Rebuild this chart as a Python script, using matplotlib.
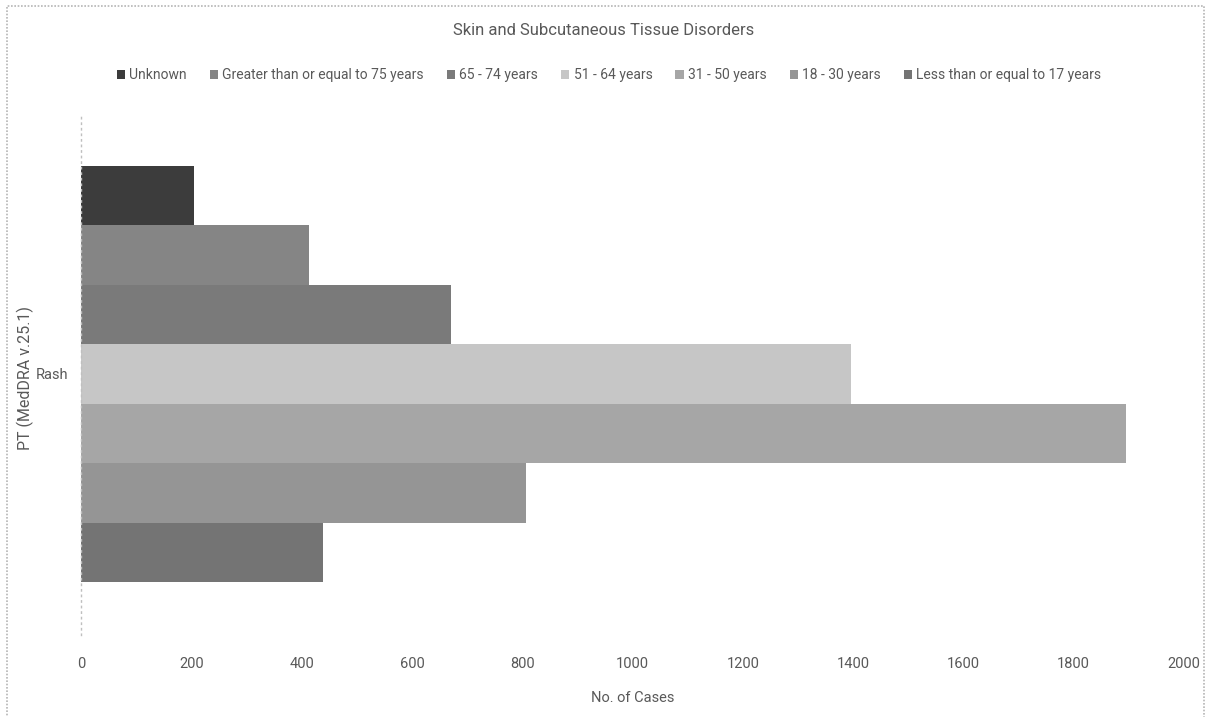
import matplotlib
matplotlib.use("Agg")
import matplotlib.pyplot as plt
from matplotlib.patches import Rectangle, Patch

plt.rcParams['font.family'] = ['Roboto', 'DejaVu Sans']

# Age groups, listed top to bottom as drawn
age_groups = ["Unknown", "Greater than or equal to 75 years", "65 - 74 years",
              "51 - 64 years", "31 - 50 years", "18 - 30 years",
              "Less than or equal to 17 years"]
cases = [205, 413, 671, 1396, 1895, 807, 439]
colors = ["#3c3c3c", "#858585", "#7a7a7a", "#c6c6c6", "#a6a6a6", "#959595", "#747474"]
category = "Rash"
x_ticks = [0, 200, 400, 600, 800, 1000, 1200, 1400, 1600, 1800, 2000]

text_color = "#595959"

fig = plt.figure(figsize=(12.14, 7.17), dpi=100)
ax = fig.add_axes([0.0667, 0.1144, 0.9086, 0.728])

n = len(age_groups)
positions = [n - 1 - i for i in range(n)]
ax.barh(positions, cases, height=1.0, color=colors, edgecolor="none")

pad = 0.89
ax.set_ylim(-0.5 - pad, n - 0.5 + pad)
ax.set_xlim(0, 2000)
ax.set_xticks(x_ticks)
ax.set_xticklabels([str(v) for v in x_ticks], color=text_color, fontsize=10.5)
ax.tick_params(axis='x', length=0, pad=16)
ax.set_yticks([(n - 1) / 2])
ax.set_yticklabels([category], color=text_color, fontsize=10.5)
ax.tick_params(axis='y', length=0, pad=9)

for side in ["top", "right", "bottom"]:
    ax.spines[side].set_visible(False)
ax.spines["left"].set_linestyle((0, (1, 3)))
ax.spines["left"].set_color("#bfbfbf")
ax.spines["left"].set_linewidth(1)

ax.set_xlabel("No. of Cases", color=text_color, fontsize=10.5, labelpad=14)
fig.text(25 / 1214, 1 - 378 / 717, "PT (MedDRA v.25.1)", rotation=90,
         ha="center", va="center", color=text_color, fontsize=11.5)

fig.text(604 / 1214, 0.958, "Skin and Subcutaneous Tissue Disorders",
         ha="center", va="center", color=text_color, fontsize=12)

handles = [Patch(facecolor=c, edgecolor="none") for c in colors]
fig.legend(handles, age_groups, loc="center", bbox_to_anchor=(609 / 1214, 0.895),
           ncol=n, frameon=False, fontsize=10, handlelength=0.6, handleheight=0.6,
           handletextpad=0.3, columnspacing=1.65, labelcolor=text_color)

# Dotted outer chart border
fig.patches.append(Rectangle((7 / 1214, -0.01), 1197 / 1214, 1 - 6 / 717 + 0.01,
                             transform=fig.transFigure, fill=False,
                             edgecolor="#b5b5b5", linewidth=1.2,
                             linestyle=(0, (1, 1))))

fig.savefig("out.png", dpi=100)
